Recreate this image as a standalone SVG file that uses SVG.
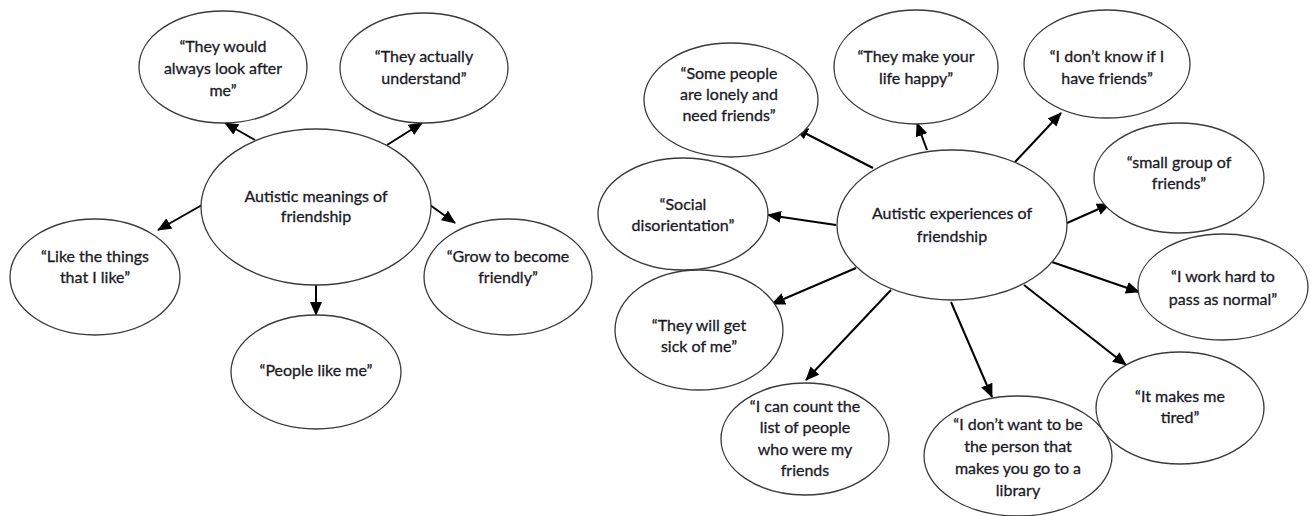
<svg xmlns="http://www.w3.org/2000/svg" width="1311" height="516" viewBox="0 0 1311 516">
<style>
  .n ellipse { fill: #ffffff; stroke: #3a3a3a; stroke-width: 1.3; }
  .n text { font-family: Lato, "Liberation Sans", sans-serif; font-size: 16px; fill: #1a1a26; stroke: #1a1a26; stroke-width: 0.3; text-anchor: middle; }
  .c line { stroke: #000000; stroke-width: 2; marker-end: url(#ah); }
</style>
<defs>
  <marker id="ah" markerUnits="userSpaceOnUse" markerWidth="14" markerHeight="12" refX="13" refY="6" orient="auto">
    <path d="M0,0 L14,6 L0,12 z" fill="#000"/>
  </marker>
</defs>
<rect width="1311" height="516" fill="#ffffff"/>

<g id="connectors" class="c">
  <line x1="255" y1="140" x2="225" y2="123"/>
  <line x1="387" y1="145" x2="422" y2="123"/>
  <line x1="202" y1="205" x2="158" y2="230"/>
  <line x1="430" y1="205" x2="455" y2="223"/>
  <line x1="316" y1="284" x2="316" y2="315"/>

  <line x1="873" y1="168" x2="795" y2="128"/>
  <line x1="927" y1="150" x2="917" y2="123"/>
  <line x1="1015" y1="162" x2="1061" y2="113"/>
  <line x1="1067" y1="223" x2="1110" y2="204"/>
  <line x1="836" y1="225" x2="768" y2="215"/>
  <line x1="856" y1="268" x2="772" y2="304"/>
  <line x1="891" y1="290" x2="806" y2="380"/>
  <line x1="951" y1="302" x2="992" y2="397"/>
  <line x1="1024" y1="285" x2="1126" y2="365"/>
  <line x1="1052" y1="262" x2="1139" y2="292"/>
</g>

<g id="meanings" class="n">
  <ellipse cx="316" cy="207" rx="115" ry="78"/>
  <text x="316" y="202">Autistic meanings of</text>
  <text x="316" y="222">friendship</text>
</g>
<g id="look-after" class="n">
  <ellipse cx="223" cy="67" rx="84" ry="56"/>
  <text x="223" y="52">“They would</text>
  <text x="223" y="74">always look after</text>
  <text x="223" y="96">me”</text>
</g>
<g id="understand" class="n">
  <ellipse cx="424" cy="68" rx="84" ry="55"/>
  <text x="424" y="62">“They actually</text>
  <text x="424" y="84">understand”</text>
</g>
<g id="like-things" class="n">
  <ellipse cx="95" cy="277" rx="85" ry="58"/>
  <text x="95" y="262">“Like the things</text>
  <text x="95" y="283">that I like”</text>
</g>
<g id="grow" class="n">
  <ellipse cx="508" cy="277" rx="84" ry="58"/>
  <text x="508" y="262">“Grow to become</text>
  <text x="508" y="283">friendly”</text>
</g>
<g id="people-like-me" class="n">
  <ellipse cx="316" cy="372" rx="85" ry="57"/>
  <text x="316" y="376">“People like me”</text>
</g>

<g id="experiences" class="n">
  <ellipse cx="952" cy="225" rx="115" ry="75"/>
  <text x="952" y="219">Autistic experiences of</text>
  <text x="952" y="242">friendship</text>
</g>
<g id="lonely" class="n">
  <ellipse cx="731" cy="100" rx="87" ry="57"/>
  <text x="729" y="79">“Some people</text>
  <text x="729" y="100">are lonely and</text>
  <text x="729" y="121">need friends”</text>
</g>
<g id="happy" class="n">
  <ellipse cx="916" cy="67" rx="82" ry="57"/>
  <text x="916" y="62">“They make your</text>
  <text x="916" y="84">life happy”</text>
</g>
<g id="dont-know" class="n">
  <ellipse cx="1107" cy="64" rx="83" ry="54"/>
  <text x="1107" y="62">“I don’t know if I</text>
  <text x="1107" y="84">have friends”</text>
</g>
<g id="small-group" class="n">
  <ellipse cx="1179" cy="178" rx="85" ry="55"/>
  <text x="1179" y="168">“small group of</text>
  <text x="1179" y="189">friends”</text>
</g>
<g id="disorientation" class="n">
  <ellipse cx="683" cy="214" rx="85" ry="56"/>
  <text x="683" y="210">“Social</text>
  <text x="683" y="231">disorientation”</text>
</g>
<g id="sick-of-me" class="n">
  <ellipse cx="699" cy="330" rx="84" ry="60"/>
  <text x="699" y="331">“They will get</text>
  <text x="699" y="352">sick of me”</text>
</g>
<g id="count-list" class="n">
  <ellipse cx="805" cy="439" rx="84" ry="56"/>
  <text x="805" y="412">“I can count the</text>
  <text x="805" y="433">list of people</text>
  <text x="805" y="455">who were my</text>
  <text x="805" y="476">friends</text>
</g>
<g id="library" class="n">
  <ellipse cx="1018" cy="456" rx="94" ry="60"/>
  <text x="1018" y="430">“I don’t want to be</text>
  <text x="1018" y="452">the person that</text>
  <text x="1018" y="474">makes you go to a</text>
  <text x="1018" y="496">library</text>
</g>
<g id="tired" class="n">
  <ellipse cx="1180" cy="408" rx="84" ry="56"/>
  <text x="1180" y="402">“It makes me</text>
  <text x="1180" y="423">tired”</text>
</g>
<g id="pass-normal" class="n">
  <ellipse cx="1223" cy="287" rx="85" ry="53"/>
  <text x="1223" y="282">“I work hard to</text>
  <text x="1223" y="305">pass as normal”</text>
</g>
</svg>
